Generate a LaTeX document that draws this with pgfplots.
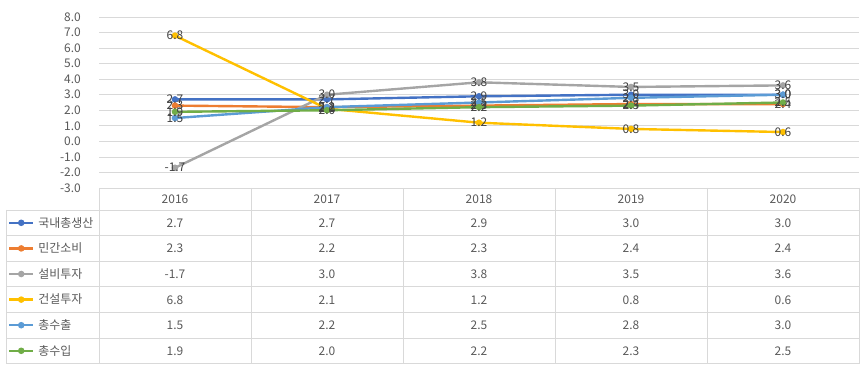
\documentclass[border=0pt]{standalone}
\usepackage{fontspec}
\setmainfont{Noto Sans CJK KR}
\usepackage{pgfplots}
\usepackage{pgfplotstable}
\pgfplotsset{compat=1.18}
\definecolor{cgdp}{HTML}{4472C4}
\definecolor{ccons}{HTML}{ED7D31}
\definecolor{cequip}{HTML}{A5A5A5}
\definecolor{cconstr}{HTML}{FFC000}
\definecolor{cexp}{HTML}{5B9BD5}
\definecolor{cimp}{HTML}{70AD47}
\definecolor{txt}{HTML}{595959}
\definecolor{lbl}{HTML}{404040}
\definecolor{gridc}{HTML}{D9D9D9}

\pgfplotstableread{
x gdp cons equip constr exp imp
0 2.7 2.3 -1.7 6.8 1.5 1.9
1 2.7 2.2 3.0 2.1 2.2 2.0
2 2.9 2.3 3.8 1.2 2.5 2.2
3 3.0 2.4 3.5 0.8 2.8 2.3
4 3.0 2.4 3.6 0.6 3.0 2.5
}\data

\newcommand\fs{\fontsize{12}{14}\selectfont}

\begin{document}
\begin{tikzpicture}
\begin{axis}[
  at={(99bp,183bp)}, anchor=south west,
  scale only axis, width=760bp, height=171bp,
  xmin=-0.5, xmax=4.5, ymin=-3, ymax=8,
  xtick=\empty, ytick={-3,-2,...,8},
  ymajorgrids, grid style={gridc, line width=0.75bp},
  axis line style={draw=none}, major tick length=0pt,
  /pgf/number format/assume math mode=true,
  yticklabel={\pgfmathprintnumber[fixed,fixed zerofill,precision=1]{\tick}},
  yticklabel style={font=\fs, text=txt, inner sep=0pt, xshift=-18bp},
  clip=false,
  every axis plot/.append style={line width=2.4bp, mark=*, mark size=2bp, mark options={solid}},
  nodes near coords={\pgfmathprintnumber[fixed,fixed zerofill,precision=1,assume math mode=true]{\pgfplotspointmeta}},
  point meta=y,
  every node near coord/.append style={anchor=center, font=\fs, text=lbl, inner sep=0pt},
  legend style={at={(axis description cs:-0.1197,-0.1287)}, anchor=north west, draw=none, fill=none,
     inner sep=0pt, outer sep=0pt, row sep=0pt, column sep=4bp,
     nodes={inner sep=0pt, minimum height=25.6bp, text=txt, font=\fs}},
  legend cell align=left,
  legend image code/.code={\draw[mark repeat=2,mark phase=2,#1] plot coordinates {(0bp,0bp) (12bp,0bp) (24bp,0bp)};},
]
\addplot[cgdp, mark options={fill=cgdp}] table[x=x,y=gdp]{\data};
\addlegendentry{국내총생산}
\addplot[ccons, mark options={fill=ccons}] table[x=x,y=cons]{\data};
\addlegendentry{민간소비}
\addplot[cequip, mark options={fill=cequip}] table[x=x,y=equip]{\data};
\addlegendentry{설비투자}
\addplot[cconstr, mark options={fill=cconstr}] table[x=x,y=constr]{\data};
\addlegendentry{건설투자}
\addplot[cexp, mark options={fill=cexp}] table[x=x,y=exp]{\data};
\addlegendentry{총수출}
\addplot[cimp, mark options={fill=cimp}] table[x=x,y=imp]{\data};
\addlegendentry{총수입}
\end{axis}
% data table grid
\begin{scope}[gridc, line width=0.75bp]
\draw (99bp,{(371-188)*1bp}) -- (859bp,{(371-188)*1bp});
\foreach \k in {0,...,6} {
  \draw (6bp,{(371-210-25.6*\k)*1bp}) -- (859bp,{(371-210-25.6*\k)*1bp});
}
\foreach \xx in {99,251,403,555,707,859} {
  \draw (\xx bp,{(371-188)*1bp}) -- (\xx bp,{(371-363.6)*1bp});
}
\draw (6bp,{(371-210)*1bp}) -- (6bp,{(371-363.6)*1bp});
\end{scope}
\foreach \yr [count=\r from 0] in {2016,2017,2018,2019,2020} {
  \node[font=\fs, text=txt, inner sep=0pt] at ({(175+152*\r)*1bp},{(371-199)*1bp}) {\yr};
  \foreach \c [count=\j from 0] in {gdp,cons,equip,constr,exp,imp} {
    \pgfplotstablegetelem{\r}{\c}\of\data
    \node[font=\fs, text=txt, inner sep=0pt] at ({(175+152*\r)*1bp},{(371-223-25.6*\j)*1bp}) {\pgfplotsretval};
  }
}
\pgfresetboundingbox
\path (0,0) rectangle (866bp,371bp);
\end{tikzpicture}
\end{document}
